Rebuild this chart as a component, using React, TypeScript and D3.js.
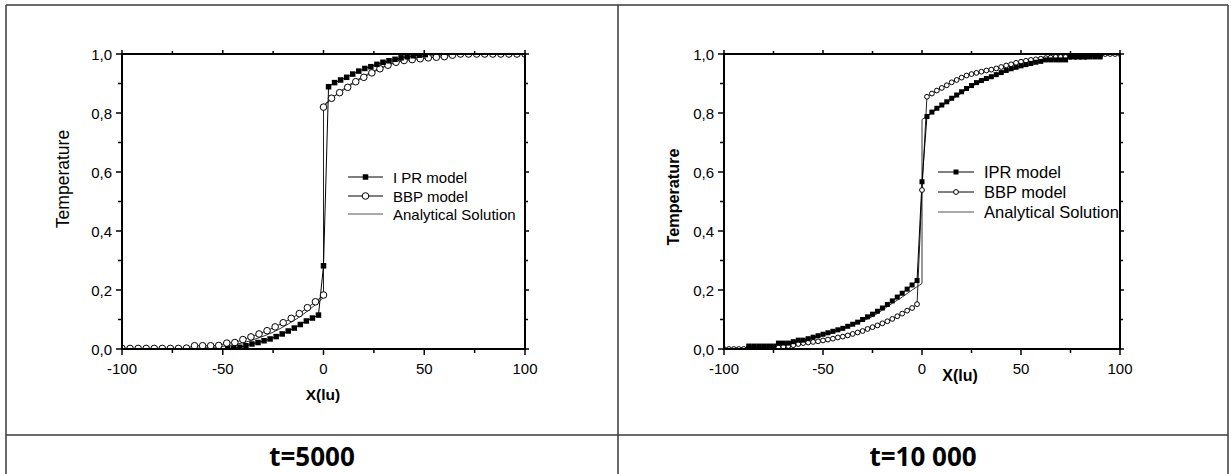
import React from 'react';
import * as d3 from 'd3';

// ---------- shared axis definitions ----------
const xMajorTicks = [-100, -50, 0, 50, 100];
const xMinorTicks = [-75, -25, 25, 75];
const yMajorTicks = [0, 0.2, 0.4, 0.6, 0.8, 1.0];
const yMinorTicks = [0.1, 0.3, 0.5, 0.7, 0.9];
const yTickLabels = ['0,0', '0,2', '0,4', '0,6', '0,8', '1,0'];
const xTickLabels = ['-100', '-50', '0', '50', '100'];
const captions = ['t=5000', 't=10 000'];
const legendLeft = ['I PR model', 'BBP model', 'Analytical Solution'];
const legendRight = ['IPR model', 'BBP model', 'Analytical Solution'];

// ---------- t = 5000 ----------
const ipr5000: [number, number][] = [
  [-47.5, 0.001], [-44.5, 0.003], [-41.5, 0.006], [-38.5, 0.011], [-35.5, 0.017], [-32.5, 0.022],
  [-29.5, 0.028], [-26.5, 0.034], [-23.5, 0.042], [-20.5, 0.051], [-17.5, 0.061], [-14.5, 0.071],
  [-11.5, 0.083], [-8.5, 0.095], [-5.5, 0.105], [-2.5, 0.115], [0, 0.282],
  [2.5, 0.889], [5.5, 0.903], [8.5, 0.912], [11.5, 0.921], [14.5, 0.932], [17.5, 0.942],
  [20.5, 0.951], [23.5, 0.957], [26.5, 0.965], [29.5, 0.972], [32.5, 0.977], [35.5, 0.982],
  [38.5, 0.987], [41.5, 0.991], [44.5, 0.994], [47.5, 0.996], [50.5, 0.998],
];
const bbp5000: [number, number][] = [
  [-100, 0.002], [-96, 0.002], [-92, 0.002], [-88, 0.002], [-84, 0.002], [-80, 0.002], [-76, 0.002],
  [-72, 0.002], [-68, 0.003], [-64, 0.011], [-60, 0.011], [-56, 0.011], [-52, 0.012], [-48, 0.02],
  [-44, 0.022], [-40, 0.032], [-36, 0.041], [-32, 0.051], [-28, 0.062], [-24, 0.075], [-20, 0.089],
  [-16, 0.104], [-12, 0.12], [-8, 0.14], [-4, 0.16], [0, 0.183],
  [0, 0.82], [4, 0.85], [8, 0.869], [12, 0.887], [16, 0.906], [20, 0.921], [24, 0.936], [28, 0.95],
  [32, 0.962], [36, 0.972], [40, 0.978], [44, 0.981], [48, 0.984], [52, 0.987], [56, 0.989],
  [60, 0.991], [64, 0.996], [68, 1], [72, 1], [76, 1], [80, 1], [84, 1], [88, 1], [92, 1], [96, 1], [100, 1],
];
const anaLower5000: [number, number][] = [
  [-100, 0], [-70, 0.001], [-60, 0.003], [-50, 0.009], [-45, 0.014], [-40, 0.021], [-35, 0.031],
  [-30, 0.043], [-25, 0.057], [-20, 0.075], [-15, 0.095], [-10, 0.118], [-5, 0.145], [-2, 0.162], [0, 0.175],
];
const anaUpper5000: [number, number][] = [
  [0, 0.825], [2, 0.838], [5, 0.855], [10, 0.882], [15, 0.905], [20, 0.925], [25, 0.943], [30, 0.957],
  [35, 0.969], [40, 0.979], [45, 0.986], [50, 0.991], [60, 0.997], [70, 0.999], [100, 1],
];

// ---------- t = 10 000 ----------
const ipr10000: [number, number][] = [
  [-87.5, 0.01], [-85, 0.01], [-82.5, 0.01], [-80, 0.01], [-77.5, 0.01], [-75, 0.01], [-72.5, 0.02],
  [-70, 0.02], [-67.5, 0.02], [-65, 0.025], [-62.5, 0.03], [-60, 0.03], [-57.5, 0.035], [-55, 0.04],
  [-52.5, 0.045], [-50, 0.05], [-47.5, 0.055], [-45, 0.06], [-42.5, 0.065], [-40, 0.07], [-37.5, 0.077],
  [-35, 0.084], [-32.5, 0.091], [-30, 0.1], [-27.5, 0.109], [-25, 0.118], [-22.5, 0.128], [-20, 0.139],
  [-17.5, 0.151], [-15, 0.163], [-12.5, 0.176], [-10, 0.189], [-7.5, 0.203], [-5, 0.217], [-2.5, 0.232],
  [0, 0.567],
  [2.5, 0.788], [5, 0.803], [7.5, 0.816], [10, 0.827], [12.5, 0.838], [15, 0.85], [17.5, 0.861], [20, 0.872],
  [22.5, 0.883], [25, 0.893], [27.5, 0.903], [30, 0.91], [32.5, 0.917], [35, 0.923], [37.5, 0.93], [40, 0.937],
  [42.5, 0.944], [45, 0.95], [47.5, 0.955], [50, 0.96], [52.5, 0.964], [55, 0.968], [57.5, 0.972], [60, 0.975],
  [62.5, 0.98], [65, 0.98], [67.5, 0.98], [70, 0.98], [72.5, 0.98], [75, 0.99], [77.5, 0.99], [80, 0.99],
  [82.5, 0.99], [85, 0.99], [87.5, 0.99], [90, 0.99],
];
const bbp10000: [number, number][] = [
  [-100, 0], [-97.5, 0], [-95, 0], [-92.5, 0], [-90, 0], [-87.5, 0.005], [-85, 0.005], [-82.5, 0.005],
  [-80, 0.005], [-77.5, 0.005], [-75, 0.005], [-72.5, 0.005], [-70, 0.008], [-67.5, 0.01], [-65, 0.013],
  [-62.5, 0.017], [-60, 0.02], [-57.5, 0.022], [-55, 0.024], [-52.5, 0.026], [-50, 0.029], [-47.5, 0.032],
  [-45, 0.035], [-42.5, 0.039], [-40, 0.042], [-37.5, 0.046], [-35, 0.051], [-32.5, 0.056], [-30, 0.061],
  [-27.5, 0.068], [-25, 0.074], [-22.5, 0.08], [-20, 0.087], [-17.5, 0.094], [-15, 0.102], [-12.5, 0.111],
  [-10, 0.12], [-7.5, 0.13], [-5, 0.139], [-2.5, 0.152], [0, 0.539],
  [2.5, 0.855], [5, 0.866], [7.5, 0.876], [10, 0.885], [12.5, 0.894], [15, 0.904], [17.5, 0.912], [20, 0.92],
  [22.5, 0.927], [25, 0.932], [27.5, 0.936], [30, 0.94], [32.5, 0.944], [35, 0.947], [37.5, 0.951], [40, 0.956],
  [42.5, 0.961], [45, 0.965], [47.5, 0.97], [50, 0.974], [52.5, 0.977], [55, 0.98], [57.5, 0.982], [60, 0.984],
  [62.5, 0.986], [65, 0.988], [67.5, 0.99], [70, 0.99], [72.5, 0.99], [75, 0.99], [77.5, 0.99], [80, 0.99],
  [82.5, 0.99], [85, 0.995], [87.5, 0.995], [90, 0.995], [92.5, 1], [95, 1], [97.5, 1], [100, 1],
];
const anaLower10000: [number, number][] = [
  [-100, 0.002], [-90, 0.005], [-80, 0.009], [-70, 0.016], [-60, 0.027], [-53, 0.04], [-45, 0.055],
  [-37, 0.075], [-30, 0.095], [-25, 0.11], [-20, 0.132], [-15, 0.155], [-10, 0.176], [-5, 0.2], [0, 0.222],
];
const anaUpper10000: [number, number][] = [
  [0, 0.778], [5, 0.8], [10, 0.824], [15, 0.845], [20, 0.868], [25, 0.89], [30, 0.905], [37, 0.925],
  [45, 0.945], [53, 0.96], [60, 0.973], [70, 0.984], [80, 0.991], [90, 0.995], [100, 0.998],
];

const FONT = 'Liberation Sans, Arial, sans-serif';

type ChartProps = {
  id: string;
  left: number; right: number; top: number; bottom: number;
  ipr: [number, number][]; bbp: [number, number][];
  anaLower: [number, number][]; anaUpper: [number, number][];
  legend: string[];
  legendX: number; legendTextX: number; legendRows: number[]; legendFont: number;
  sq: number; cr: number;
  yTitleX: number; yTitleY: number; yTitleBold: boolean; yTitleSize: number;
  xTitleX: number; xTitleY: number; xTitleSize: number;
};

function Chart(p: ChartProps) {
  const x = d3.scaleLinear().domain([-100, 100]).range([p.left, p.right]);
  const y = d3.scaleLinear().domain([0, 1]).range([p.bottom, p.top]);
  const line = d3.line<[number, number]>().x(d => x(d[0])).y(d => y(d[1]));
  const curve = d3.line<[number, number]>().x(d => x(d[0])).y(d => y(d[1])).curve(d3.curveMonotoneX);
  const lo = p.anaLower[p.anaLower.length - 1];
  const up = p.anaUpper[0];
  const majLen = 6, minLen = 4;
  const clipId = 'clip-' + p.id;
  return (
    <g>
      <defs>
        <clipPath id={clipId}>
          <rect x={p.left} y={p.top} width={p.right - p.left} height={p.bottom - p.top} />
        </clipPath>
      </defs>
      <g clipPath={`url(#${clipId})`}>
        {/* analytical solution */}
        <path d={curve(p.anaLower) || ''} fill="none" stroke="#333" strokeWidth={1} />
        <path d={curve(p.anaUpper) || ''} fill="none" stroke="#333" strokeWidth={1} />
        <line x1={x(lo[0])} x2={x(up[0])} y1={y(lo[1])} y2={y(up[1])} stroke="#333" strokeWidth={1} />
        {/* series lines */}
        <path d={line(p.bbp) || ''} fill="none" stroke="#222" strokeWidth={1} />
        <path d={line(p.ipr) || ''} fill="none" stroke="#000" strokeWidth={1} />
        {/* markers */}
        {p.bbp.map((d, i) => (
          <circle key={'c' + i} cx={x(d[0])} cy={y(d[1])} r={p.cr} fill="#fff" stroke="#000" strokeWidth={1} />
        ))}
        {p.ipr.map((d, i) => (
          <rect key={'s' + i} x={x(d[0]) - p.sq / 2} y={y(d[1]) - p.sq / 2} width={p.sq} height={p.sq} fill="#000" />
        ))}
      </g>

      {/* frame */}
      <rect x={p.left} y={p.top} width={p.right - p.left} height={p.bottom - p.top} fill="none" stroke="#000" strokeWidth={2} />
      {xMajorTicks.map(v => (
        <g key={'xM' + v}>
          <line x1={x(v)} x2={x(v)} y1={p.bottom} y2={p.bottom + majLen} stroke="#000" strokeWidth={1.5} />
          <line x1={x(v)} x2={x(v)} y1={p.top} y2={p.top - majLen + 2} stroke="#000" strokeWidth={1.5} />
        </g>
      ))}
      {xMinorTicks.map(v => (
        <g key={'xm' + v}>
          <line x1={x(v)} x2={x(v)} y1={p.bottom} y2={p.bottom + minLen} stroke="#000" strokeWidth={1.5} />
          <line x1={x(v)} x2={x(v)} y1={p.top} y2={p.top - minLen + 1} stroke="#000" strokeWidth={1.5} />
        </g>
      ))}
      {yMajorTicks.map(v => (
        <g key={'yM' + v}>
          <line x1={p.left} x2={p.left - majLen} y1={y(v)} y2={y(v)} stroke="#000" strokeWidth={1.5} />
          <line x1={p.right} x2={p.right + majLen - 2} y1={y(v)} y2={y(v)} stroke="#000" strokeWidth={1.5} />
        </g>
      ))}
      {yMinorTicks.map(v => (
        <g key={'ym' + v}>
          <line x1={p.left} x2={p.left - minLen} y1={y(v)} y2={y(v)} stroke="#000" strokeWidth={1.5} />
          <line x1={p.right} x2={p.right + minLen - 1} y1={y(v)} y2={y(v)} stroke="#000" strokeWidth={1.5} />
        </g>
      ))}
      {xMajorTicks.map((v, i) => (
        <text key={'xl' + v} x={x(v)} y={p.bottom + 25} textAnchor="middle" fontFamily={FONT} fontSize={15} fill="#000">{xTickLabels[i]}</text>
      ))}
      {yMajorTicks.map((v, i) => (
        <text key={'yl' + v} x={p.left - 10} y={y(v) + 5.5} textAnchor="end" fontFamily={FONT} fontSize={15} fill="#000">{yTickLabels[i]}</text>
      ))}

      {/* titles */}
      <text x={p.xTitleX} y={p.xTitleY} textAnchor="middle" fontFamily={FONT} fontWeight="bold" fontSize={p.xTitleSize} fill="#000">X(lu)</text>
      <text transform={`translate(${p.yTitleX},${p.yTitleY}) rotate(-90)`} textAnchor="middle" fontFamily={FONT}
        fontWeight={p.yTitleBold ? 'bold' : 'normal'} fontSize={p.yTitleSize} fill="#000">Temperature</text>

      {/* legend */}
      {p.legend.map((t, i) => {
        const ly = p.legendRows[i];
        const cx = (p.legendX + p.legendTextX - 10) / 2;
        return (
          <g key={'lg' + i}>
            <line x1={p.legendX} x2={p.legendTextX - 10} y1={ly} y2={ly} stroke={i === 2 ? '#555' : '#000'} strokeWidth={1} />
            {i === 0 && <rect x={cx - p.sq / 2} y={ly - p.sq / 2} width={p.sq} height={p.sq} fill="#000" />}
            {i === 1 && <circle cx={cx} cy={ly} r={p.cr} fill="#fff" stroke="#000" strokeWidth={1} />}
            <text x={p.legendTextX} y={ly + 5.5} fontFamily={FONT} fontSize={p.legendFont} fill="#000">{t}</text>
          </g>
        );
      })}
    </g>
  );
}

export default function App() {
  const border = '#3a3a3a';
  return (
    <svg width={1231} height={474} style={{ position: 'absolute', left: 0, top: 0, background: '#fff' }}>
      <rect x={0} y={0} width={1231} height={474} fill="#fff" />
      {/* table grid */}
      <line x1={6} x2={1228} y1={5} y2={5} stroke={border} strokeWidth={1.5} />
      <line x1={6} x2={1228} y1={435} y2={435} stroke={border} strokeWidth={1.5} />
      <line x1={6} x2={6} y1={5} y2={474} stroke={border} strokeWidth={1.5} />
      <line x1={618} x2={618} y1={5} y2={474} stroke={border} strokeWidth={1.5} />
      <line x1={1228} x2={1228} y1={5} y2={474} stroke={border} strokeWidth={1.5} />

      <Chart id="a" left={122} right={525} top={54} bottom={349}
        ipr={ipr5000} bbp={bbp5000} anaLower={anaLower5000} anaUpper={anaUpper5000}
        legend={legendLeft} legendX={348} legendTextX={393} legendRows={[177, 196, 214]} legendFont={15}
        sq={5.5} cr={3.3}
        yTitleX={69} yTitleY={179} yTitleBold={false} yTitleSize={17.5}
        xTitleX={323} xTitleY={400} xTitleSize={15.5} />
      <Chart id="b" left={724} right={1120} top={54} bottom={349}
        ipr={ipr10000} bbp={bbp10000} anaLower={anaLower10000} anaUpper={anaUpper10000}
        legend={legendRight} legendX={938} legendTextX={984} legendRows={[172, 192, 212]} legendFont={16.5}
        sq={5} cr={2.4}
        yTitleX={679} yTitleY={197} yTitleBold={true} yTitleSize={16.2}
        xTitleX={960} xTitleY={381} xTitleSize={16} />

      {captions.map((c, i) => (
        <text key={c} x={i === 0 ? 312 : 923} y={466} textAnchor="middle" fontFamily="Open Sans, sans-serif"
          fontWeight="bold" fontSize={26} fill="#000">{c}</text>
      ))}
    </svg>
  );
}
